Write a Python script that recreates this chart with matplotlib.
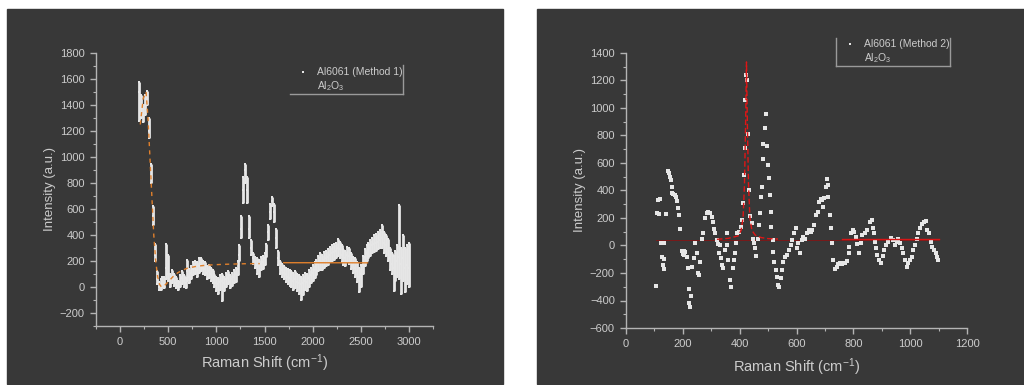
import matplotlib.pyplot as plt
import numpy as np
from matplotlib.lines import Line2D
from matplotlib.patches import Rectangle
from matplotlib.ticker import MultipleLocator

plt.rcParams['font.family'] = ['Liberation Sans', 'DejaVu Sans']
plt.rcParams['mathtext.fontset'] = 'custom'
plt.rcParams['mathtext.rm'] = 'Liberation Sans'
plt.rcParams['mathtext.it'] = 'Liberation Sans:italic'
plt.rcParams['mathtext.bf'] = 'Liberation Sans:bold'

# ---- left panel: Al6061 (Method 1), dense spectrum read as low / mid / high band
x_m1 = list(range(200, 3001, 20))
y_m1_mid = [1500, 1380, 1330, 1400, 1460, 1200, 850, 550, 250, 60,
            0, 10, 40, 30, 150, 100, 50, 80, 60, 30,
            10, 40, 70, 50, 30, 120, 80, 110, 140, 150,
            130, 160, 170, 150, 140, 110, 120, 100, 80, 50,
            30, 20, 40, 50, 30, 60, 70, 40, 60, 80,
            100, 140, 250, 450, 750, 900, 750, 450, 300, 220,
            190, 170, 160, 180, 190, 220, 280, 420, 580, 660,
            580, 380, 220, 150, 130, 110, 100, 80, 70, 60,
            50, 60, 40, 30, 20, 30, 50, 40, 70, 90,
            110, 130, 150, 180, 200, 190, 210, 220, 230, 250,
            260, 270, 280, 300, 290, 250, 230, 220, 250, 240,
            200, 170, 150, 120, 80, 100, 170, 230, 260, 280,
            300, 320, 330, 340, 350, 360, 380, 340, 320, 290,
            220, 180, 150, 160, 200, 230, 180, 220, 150, 170,
            150]
y_m1_lo = [1280, 1300, 1270, 1320, 1400, 1150, 800, 480, 200, 20,
           -20, -20, 0, -10, 60, 50, 0, 30, 10, -10,
           -20, 0, 20, 0, -10, 50, 30, 60, 90, 100,
           80, 110, 120, 100, 90, 60, 70, 50, 30, 0,
           -30, -50, -20, -110, -30, 0, 20, -10, 10, 30,
           40, 90, 200, 380, 650, 800, 650, 380, 250, 180,
           150, 100, 80, 130, 140, 170, 230, 360, 520, 620,
           500, 300, 170, 100, 80, 60, 40, 20, 10, 0,
           -20, -10, -30, -50, -100, -60, -20, -30, 0, 30,
           50, 70, 90, 120, 130, 130, 150, 160, 170, 190,
           200, 210, 220, 240, 220, 190, 170, 160, 190, 180,
           140, 110, 80, 40, -40, 0, 100, 160, 200, 220,
           240, 260, 270, 280, 290, 300, 300, 260, 240, 200,
           130, 100, -30, 50, 80, 60, -50, 50, -40, 20,
           0]
y_m1_hi = [1580, 1480, 1400, 1480, 1510, 1300, 950, 620, 330, 120,
           40, 60, 80, 80, 330, 250, 100, 130, 100, 80,
           50, 90, 120, 90, 70, 210, 140, 160, 190, 200,
           190, 220, 220, 200, 190, 160, 170, 150, 130, 100,
           80, 70, 90, 100, 80, 110, 120, 90, 110, 130,
           150, 200, 320, 550, 850, 950, 850, 550, 360, 260,
           230, 220, 210, 230, 240, 260, 330, 480, 640, 690,
           640, 450, 280, 200, 180, 160, 150, 140, 130, 120,
           110, 120, 100, 90, 80, 90, 110, 100, 130, 150,
           170, 190, 210, 240, 260, 250, 270, 280, 290, 310,
           320, 330, 340, 370, 350, 320, 290, 280, 310, 300,
           260, 230, 220, 190, 150, 170, 240, 290, 320, 340,
           360, 380, 400, 410, 420, 440, 480, 420, 400, 370,
           300, 260, 240, 280, 320, 630, 300, 400, 300, 320,
           340]

# Al2O3 fit (method 1)
fit1_x = [210, 240, 270, 290, 310, 330, 350, 370, 390, 410, 430, 460, 500,
          550, 600, 650, 700, 800, 900, 1000, 1100, 1200, 1300, 1450]
fit1_y = [1250, 1450, 1500, 1300, 1000, 700, 400, 200, 80, 20, 0, 10, 40,
          80, 110, 130, 145, 160, 168, 172, 175, 177, 179, 180]
fit1b_x = [1700, 2570]
fit1b_y = [187, 186]

# ---- right panel: Al6061 (Method 2)
x_m2 = [104, 108, 111, 117, 118, 122, 127, 130, 133, 135, 135, 141, 148, 152, 155,
        157, 161, 163, 167, 171, 175, 181, 184, 188, 189, 196, 199, 204, 205, 209,
        214, 218, 223, 223, 226, 229, 231, 239, 242, 249, 255, 258, 261, 266, 272,
        278, 284, 290, 296, 302, 305, 310, 313, 319, 325, 329, 331, 334, 338, 343,
        348, 354, 357, 360, 366, 370, 375, 380, 384, 387, 392, 398, 405, 407, 411,
        415, 419, 420, 423, 426, 428, 432, 436, 442, 446, 452, 455, 458, 463, 467,
        472, 476, 479, 482, 483, 488, 493, 495, 500, 502, 507, 509, 512, 516, 519,
        522, 527, 530, 536, 540, 544, 550, 554, 560, 568, 575, 580, 585, 591, 597,
        603, 607, 612, 618, 624, 630, 636, 644, 650, 656, 662, 669, 674, 680, 685,
        690, 692, 697, 703, 706, 710, 712, 718, 722, 725, 730, 735, 741, 747, 753,
        759, 765, 771, 777, 783, 786, 792, 798, 803, 808, 814, 820, 826, 832, 841,
        849, 859, 865, 870, 873, 876, 880, 884, 890, 896, 903, 908, 915, 923, 931,
        938, 947, 952, 958, 964, 970, 976, 982, 988, 994, 1000, 1005, 1011, 1017, 1023,
        1029, 1035, 1041, 1047, 1055, 1060, 1066, 1072, 1078, 1084, 1090, 1095, 1099]
y_m2 = [-293, 233, 330, 226, 335, 20, -86, -142, -169, 15, -99, 231, 541, 524, 500,
        476, 427, 384, 375, 365, 355, 323, 270, 221, 120, -38, -62, -43, -70, -50,
        -82, -166, -314, -421, -445, -365, -154, -89, 15, -57, -203, -215, -118, 45, 88,
        197, 233, 246, 238, 209, 173, 117, 88, 40, 10, -57, 3, -94, -142, -166,
        -33, 3, 93, -106, -251, -300, -166, -106, -57, 15, 88, 100, 137, 185, 306,
        512, 706, 1060, 1239, 1205, 808, 405, 217, 166, 44, 20, -21, -77, 44, 149,
        238, 355, 427, 626, 738, 852, 956, 723, 585, 488, 367, 241, 132, 40, -45,
        -118, -179, -227, -288, -305, -239, -179, -118, -82, -70, -33, 3, 40, 88, 124,
        -21, 15, -57, 40, 59, 44, 88, 112, 100, 110, 149, 221, 246, 318, 335,
        330, 282, 343, 427, 481, 440, 355, 221, 124, 15, -106, -174, -154, -135, -125,
        -135, -130, -125, -111, -57, -9, 93, 112, 100, 64, 10, -57, 15, 76, 93,
        112, 173, 185, 124, 88, 27, -21, -70, -106, -125, -77, -33, 3, 27, 52,
        40, 3, 27, 44, 15, -21, -57, -106, -154, -130, -106, -82, -33, 3, 44,
        88, 124, 156, 173, 180, 112, 88, 27, -9, -33, -57, -82, -106]

# Al2O3 fit (method 2)
base2_x = [105, 1100]
base2_y = [42, 42]
peak2_x = [320, 360, 395, 405, 412, 417, 421, 424, 427, 431, 436, 443, 455,
           475, 500, 535]
peak2_y = [45, 52, 70, 110, 200, 450, 900, 1335, 900, 450, 200, 110, 75,
           58, 50, 47]
tail2_x = [760, 1100]
tail2_y = [45, 45]

BG = '#383838'
TXT = '#cccccc'
SPINE = '#b4b4b4'
PT = '#e6e6e6'

W, H = 1024, 385
fig = plt.figure(figsize=(W / 100, H / 100), dpi=100, facecolor='white')


def fx(px):
    return px / W


def fy(py):
    return 1 - py / H


fig.add_artist(Rectangle((fx(7), fy(384)), fx(503) - fx(7), fy(9) - fy(384),
                         transform=fig.transFigure, color=BG, zorder=0))
fig.add_artist(Rectangle((fx(537), fy(384)), fx(1024) - fx(537), fy(9) - fy(384),
                         transform=fig.transFigure, color=BG, zorder=0))


def style(ax):
    ax.set_facecolor('none')
    for s in ('top', 'right'):
        ax.spines[s].set_visible(False)
    for s in ('left', 'bottom'):
        ax.spines[s].set_color(SPINE)
        ax.spines[s].set_linewidth(1.0)
    ax.tick_params(which='both', direction='out', colors=SPINE, labelcolor=TXT,
                   labelsize=8, pad=4)
    ax.tick_params(which='major', length=4, width=1)
    ax.tick_params(which='minor', length=2.2, width=0.8)


ax1 = fig.add_axes([fx(96), fy(326), fx(433) - fx(96), fy(53) - fy(326)])
style(ax1)
ax1.vlines(x_m1, y_m1_lo, y_m1_hi, color=PT, linewidth=2.0, zorder=2)
for yy in (y_m1_lo, y_m1_mid, y_m1_hi):
    ax1.plot(x_m1, yy, 's', color=PT, markersize=2.0, markeredgewidth=0, zorder=3)
ax1.plot(fit1_x, fit1_y, '--', color='#e0802c', linewidth=1.0, dashes=(3, 3), zorder=4)
ax1.plot(fit1b_x, fit1b_y, '-', color='#e0802c', linewidth=1.0, zorder=4)
ax1.set_xlim(-250, 3250)
ax1.set_ylim(-300, 1800)
ax1.xaxis.set_minor_locator(MultipleLocator(250))
ax1.yaxis.set_minor_locator(MultipleLocator(100))
ax1.set_xticks([0, 500, 1000, 1500, 2000, 2500, 3000])
ax1.set_yticks(list(range(-200, 1801, 200)))
ax1.set_xlabel('Raman Shift (cm$^{-1}$)', color=TXT, fontsize=10.5)
ax1.set_ylabel('Intensity (a.u.)', color=TXT, fontsize=9.5)
ax1.xaxis.set_label_coords(0.5, -0.097)
ax1.yaxis.set_label_coords(-0.119, 0.5)

ax2 = fig.add_axes([fx(626), fy(328), fx(967) - fx(626), fy(53) - fy(328)])
style(ax2)
ax2.plot(base2_x, base2_y, '-', color='#7a1a1a', linewidth=0.7, zorder=2)
ax2.plot(x_m2, y_m2, 's', color=PT, markersize=2.2, markeredgewidth=0, zorder=3)
ax2.plot(peak2_x, peak2_y, '--', color='#e01515', linewidth=1.0, dashes=(4, 2), zorder=4)
ax2.plot(tail2_x, tail2_y, '-', color='#d81515', linewidth=1.0, zorder=4)
ax2.set_xlim(0, 1200)
ax2.set_ylim(-600, 1400)
ax2.xaxis.set_major_locator(MultipleLocator(200))
ax2.xaxis.set_minor_locator(MultipleLocator(100))
ax2.yaxis.set_major_locator(MultipleLocator(200))
ax2.yaxis.set_minor_locator(MultipleLocator(100))
ax2.set_xlabel('Raman Shift (cm$^{-1}$)', color=TXT, fontsize=10.5)
ax2.set_ylabel('Intensity (a.u.)', color=TXT, fontsize=9.5)
ax2.xaxis.set_label_coords(0.5, -0.102)
ax2.yaxis.set_label_coords(-0.117, 0.5)


# legends
def legend(label, mx, my, tx, frame):
    fig.add_artist(Line2D([fx(mx)], [fy(my)], marker='s', markersize=1.8,
                          color=PT, markeredgewidth=0, transform=fig.transFigure))
    fig.text(fx(tx), fy(my), label, color=TXT, fontsize=7.5, va='center', ha='left')
    fig.text(fx(tx), fy(my + 14), 'Al$_2$O$_3$', color=TXT, fontsize=7.5,
             va='center', ha='left')
    for (x0, y0, x1, y1) in frame:
        fig.add_artist(Line2D([fx(x0), fx(x1)], [fy(y0), fy(y1)], color='#9a9a9a',
                              linewidth=1.0, transform=fig.transFigure))


legend('Al6061 (Method 1)', 303, 72, 317,
       [(403, 65, 403, 94), (290, 94, 403, 94)])
legend('Al6061 (Method 2)', 850, 44, 864,
       [(836, 38, 836, 66), (950, 38, 950, 66), (836, 66, 950, 66)])

fig.savefig('out.png', dpi=100, facecolor='white')
